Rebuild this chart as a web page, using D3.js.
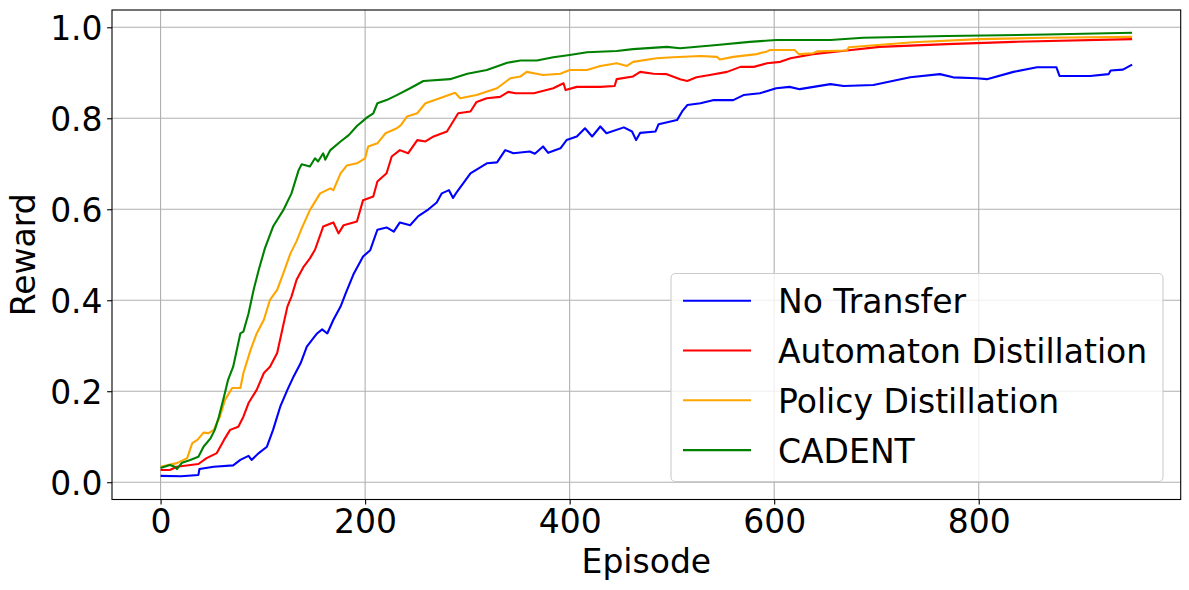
<!DOCTYPE html>
<html>
<head>
<meta charset="utf-8">
<script src="https://cdn.jsdelivr.net/npm/d3@7"></script>
<style>
  body { margin: 0; background: #fff; }
  text { font-family: "DejaVu Sans", sans-serif; fill: #000; }
</style>
</head>
<body>
<div id="chart"></div>
<script>
// series: [episode, reward]
var noTransfer = [[0,0.014],[20,0.013],[37,0.016],[38,0.029],[52,0.034],[71,0.037],[78,0.049],[86,0.058],[89,0.049],
  [96,0.064],[104,0.078],[110,0.115],[117,0.166],[124,0.203],[130,0.232],[137,0.262],[143,0.298],[153,0.327],
  [158,0.336],[163,0.327],[169,0.357],[176,0.386],[181,0.415],[189,0.459],[198,0.496],[205,0.51],[212,0.555],
  [221,0.56],[228,0.551],[234,0.571],[244,0.565],[252,0.585],[262,0.6],[270,0.615],[275,0.635],[282,0.642],
  [286,0.625],[290,0.639],[303,0.679],[319,0.701],[329,0.703],[337,0.73],[345,0.723],[361,0.727],[366,0.722],
  [374,0.738],[379,0.724],[391,0.734],[397,0.752],[407,0.76],[415,0.778],[422,0.76],[430,0.782],[436,0.767],
  [453,0.78],[461,0.771],[465,0.752],[469,0.768],[484,0.771],[487,0.787],[505,0.796],[510,0.815],[515,0.829],
  [528,0.833],[541,0.84],[560,0.84],[570,0.851],[586,0.855],[602,0.866],[615,0.869],[625,0.864],[655,0.875],
  [668,0.871],[697,0.873],[733,0.89],[762,0.897],[775,0.89],[798,0.888],[808,0.886],[834,0.902],[857,0.912],
  [876,0.912],[879,0.893],[909,0.893],[927,0.897],[929,0.905],[941,0.907],[950,0.918]];

var automaton = [[0,0.027],[9,0.027],[16,0.034],[37,0.04],[45,0.053],[55,0.064],[62,0.093],[68,0.115],[76,0.122],
  [81,0.144],[86,0.174],[94,0.203],[101,0.24],[107,0.254],[114,0.284],[119,0.335],[124,0.386],[128,0.408],
  [133,0.445],[140,0.474],[146,0.492],[151,0.511],[159,0.562],[169,0.571],[174,0.547],[179,0.565],[192,0.573],
  [198,0.62],[208,0.628],[212,0.661],[221,0.679],[226,0.716],[234,0.73],[242,0.723],[251,0.752],[259,0.749],
  [267,0.76],[280,0.771],[285,0.789],[291,0.811],[303,0.815],[309,0.836],[319,0.844],[332,0.847],[340,0.858],
  [347,0.855],[365,0.855],[384,0.866],[394,0.877],[396,0.862],[407,0.869],[430,0.869],[444,0.871],[446,0.886],
  [462,0.892],[469,0.902],[482,0.898],[495,0.897],[508,0.886],[515,0.882],[524,0.89],[537,0.895],[554,0.902],
  [567,0.913],[580,0.913],[593,0.921],[606,0.924],[616,0.932],[638,0.941],[671,0.949],[703,0.957],[769,0.963],
  [834,0.968],[950,0.974]];

var policy = [[0,0.034],[16,0.042],[26,0.053],[31,0.086],[36,0.093],[42,0.109],[47,0.108],[52,0.115],[58,0.144],
  [63,0.181],[70,0.207],[78,0.207],[81,0.24],[88,0.291],[94,0.327],[101,0.357],[107,0.401],[114,0.423],
  [120,0.459],[127,0.503],[133,0.53],[138,0.558],[146,0.598],[156,0.635],[166,0.646],[169,0.642],[176,0.679],
  [182,0.696],[192,0.701],[200,0.712],[203,0.738],[212,0.745],[220,0.767],[231,0.778],[235,0.785],[241,0.804],
  [251,0.811],[259,0.833],[273,0.844],[288,0.856],[293,0.844],[309,0.851],[329,0.866],[342,0.888],[352,0.892],
  [358,0.902],[374,0.895],[391,0.898],[400,0.906],[417,0.906],[430,0.915],[446,0.921],[456,0.915],[462,0.924],
  [485,0.932],[501,0.934],[528,0.937],[544,0.935],[547,0.929],[560,0.935],[583,0.941],[593,0.947],[596,0.95],
  [620,0.95],[624,0.941],[638,0.943],[642,0.947],[671,0.949],[673,0.956],[736,0.967],[801,0.974],[866,0.977],
  [950,0.979]];

var cadent = [[0,0.031],[9,0.038],[14,0.034],[16,0.029],[21,0.043],[29,0.049],[37,0.056],[42,0.078],[49,0.097],
  [53,0.115],[57,0.144],[62,0.188],[66,0.225],[71,0.254],[78,0.327],[81,0.331],[86,0.371],[91,0.423],[96,0.467],
  [102,0.514],[110,0.562],[120,0.598],[128,0.635],[135,0.686],[138,0.699],[146,0.694],[151,0.712],[154,0.705],
  [159,0.723],[161,0.709],[166,0.73],[176,0.749],[184,0.763],[192,0.783],[202,0.802],[208,0.811],[212,0.833],
  [221,0.84],[231,0.851],[244,0.866],[257,0.882],[283,0.886],[300,0.898],[319,0.906],[339,0.922],[352,0.927],
  [368,0.927],[384,0.934],[400,0.939],[417,0.945],[446,0.948],[462,0.952],[495,0.957],[508,0.954],[544,0.961],
  [576,0.968],[602,0.972],[655,0.972],[687,0.977],[769,0.981],[866,0.984],[950,0.988]];

var seriesNames = ["No Transfer", "Automaton Distillation", "Policy Distillation", "CADENT"];
var seriesColors = ["blue", "red", "orange", "green"];
var xTicks = [0, 200, 400, 600, 800];
var yTicks = [0.0, 0.2, 0.4, 0.6, 0.8, 1.0];

var svgWidth = 1189;
var svgHeight = 590;
var margin = { top: 10, right: 8.3, bottom: 90.5, left: 112 };
var width = svgWidth - margin.left - margin.right;
var height = svgHeight - margin.top - margin.bottom;

var svg = d3.select("#chart")
    .append("svg")
    .attr("width", svgWidth)
    .attr("height", svgHeight);

var chartGroup = svg.append("g")
    .attr("transform", `translate(${margin.left}, ${margin.top})`);

// matplotlib style 5% padding around the data
var xScale = d3.scaleLinear().domain([-47.5, 997.5]).range([0, width]);
var yScale = d3.scaleLinear().domain([-0.038, 1.038]).range([height, 0]);

// grid
chartGroup.append("g").selectAll("line")
    .data(xTicks).enter().append("line")
    .attr("x1", d => xScale(d)).attr("x2", d => xScale(d))
    .attr("y1", 0).attr("y2", height)
    .attr("stroke", "#b0b0b0").attr("stroke-width", 1.1);

chartGroup.append("g").selectAll("line")
    .data(yTicks).enter().append("line")
    .attr("x1", 0).attr("x2", width)
    .attr("y1", d => yScale(d)).attr("y2", d => yScale(d))
    .attr("stroke", "#b0b0b0").attr("stroke-width", 1.1);

// lines
var line = d3.line()
    .x(d => xScale(d[0]))
    .y(d => yScale(d[1]));

[noTransfer, automaton, policy, cadent].forEach(function(data, i) {
    chartGroup.append("path")
        .datum(data)
        .attr("fill", "none")
        .attr("stroke", seriesColors[i])
        .attr("stroke-width", 2.1)
        .attr("stroke-linejoin", "round")
        .attr("d", line);
});

// axes
var bottomAxis = d3.axisBottom(xScale).tickValues(xTicks).tickSize(4.9).tickPadding(4.5);
var leftAxis = d3.axisLeft(yScale).tickValues(yTicks).tickSize(4.9).tickPadding(4.5).tickFormat(d3.format(".1f"));

var xAxis = chartGroup.append("g")
    .attr("transform", `translate(0, ${height})`)
    .call(bottomAxis);

var yAxis = chartGroup.append("g")
    .call(leftAxis);

[xAxis, yAxis].forEach(function(ax) {
    ax.select(".domain").remove();
    ax.selectAll(".tick line").attr("stroke", "#000").attr("stroke-width", 1.1);
    ax.selectAll(".tick text").style("font-size", "33px").attr("fill", "#000");
});
xAxis.selectAll(".tick text").attr("dy", "0.73em");
yAxis.selectAll(".tick text").attr("dy", "0.36em");

// frame
chartGroup.append("rect")
    .attr("x", 0).attr("y", 0)
    .attr("width", width).attr("height", height)
    .attr("fill", "none")
    .attr("stroke", "#000")
    .attr("stroke-width", 1.1);

// axis titles
chartGroup.append("text")
    .attr("x", width / 2)
    .attr("y", height + 73.5)
    .attr("text-anchor", "middle")
    .style("font-size", "33px")
    .text("Episode");

chartGroup.append("text")
    .attr("transform", "rotate(-90)")
    .attr("x", -height / 2)
    .attr("y", 35 - margin.left)
    .attr("text-anchor", "middle")
    .style("font-size", "33px")
    .text("Reward");

// legend
var legend = svg.append("g");

legend.append("rect")
    .attr("x", 671).attr("y", 273.5)
    .attr("width", 492).attr("height", 208)
    .attr("rx", 4.5).attr("ry", 4.5)
    .attr("fill", "#fff").attr("fill-opacity", 0.8)
    .attr("stroke", "#cccccc").attr("stroke-width", 1.1);

var rows = legend.selectAll(".legend-row")
    .data(seriesNames).enter().append("g")
    .attr("class", "legend-row")
    .attr("transform", (d, i) => `translate(0, ${300.7 + i * 49.8})`);

rows.append("line")
    .attr("x1", 683).attr("x2", 751)
    .attr("y1", 0).attr("y2", 0)
    .attr("stroke", (d, i) => seriesColors[i])
    .attr("stroke-width", 2.1);

rows.append("text")
    .attr("x", 778)
    .attr("y", 12.5)
    .style("font-size", "33px")
    .text(d => d);
</script>
</body>
</html>
